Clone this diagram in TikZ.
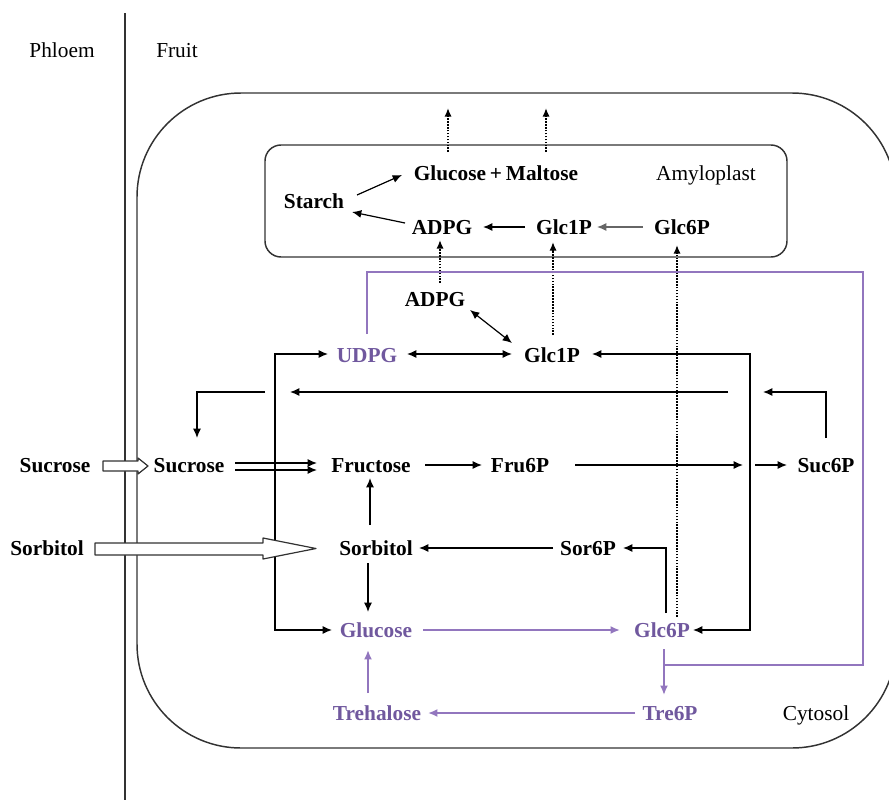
\documentclass[tikz,border=0pt]{standalone}
\usepackage{fontspec}
\setmainfont{Liberation Serif}
\usetikzlibrary{arrows.meta,calc}
\definecolor{ptext}{RGB}{112,88,158}
\definecolor{pline}{RGB}{146,118,190}
\definecolor{frame}{RGB}{50,50,50}
\begin{document}
\begin{tikzpicture}[x=0.75pt,y=-0.75pt,
  lbl/.style={font=\fontsize{16}{18}\selectfont, inner sep=0pt, text height=10.5pt, text depth=0pt},
  met/.style={lbl, font=\fontsize{16}{18}\selectfont\bfseries},
  pmet/.style={met, text=ptext},
  arr/.style={-{Latex[length=7pt,width=6pt]}, line width=0.9pt},
  darr/.style={{Latex[length=7pt,width=6pt]}-{Latex[length=7pt,width=6pt]}, line width=0.9pt},
  parr/.style={-{Latex[length=7pt,width=6pt]}, draw=pline, line width=1.4pt},
  dotarr/.style={-{Latex[length=6.5pt,width=5.5pt]}, dash pattern=on 1.2pt off 1pt, line width=1.6pt},
  hollow/.style={draw=frame, fill=white, line width=0.9pt, line join=round},
  compart/.style={draw=frame, line width=1.1pt}]
\useasboundingbox (0,0) rectangle (889,800);

% compartments
\draw[compart] (125,13) -- (125,800);
\draw[compart, rounded corners=78pt] (137,93) rectangle (896,748);
\draw[compart, rounded corners=12pt] (265,145) rectangle (787,257);

% labels
\node[lbl] (phloem) at (62,50) {Phloem};
\node[lbl] (fruit) at (177,50) {Fruit};
\node[lbl] (amylo) at (706,173) {Amyloplast};
\node[lbl] (cytosol) at (816,713) {Cytosol};

% amyloplast metabolites
\node[met] (starch) at (314,201) {Starch};
\node[met] (glu) at (450,173) {Glucose};
\node[met] (plus) at (496,173) {+};
\node[met] (mal) at (542,173) {Maltose};
\node[met] (adpgIn) at (442,227) {ADPG};
\node[met] (glc1In) at (564,227) {Glc1P};
\node[met] (glc6In) at (682,227) {Glc6P};

% cytosol metabolites
\node[met] (adpgOut) at (435,299) {ADPG};
\node[pmet] (udpg) at (367,355) {UDPG};
\node[met] (glc1Out) at (552,355) {Glc1P};
\node[met] (sucOut) at (55,465) {Sucrose};
\node[met] (sucIn) at (189,465) {Sucrose};
\node[met] (fru) at (371,465) {Fructose};
\node[met] (fru6) at (520,465) {Fru6P};
\node[met] (suc6) at (826,465) {Suc6P};
\node[met] (sorOut) at (47,548) {Sorbitol};
\node[met] (sorIn) at (376,548) {Sorbitol};
\node[met] (sor6) at (588,548) {Sor6P};
\node[pmet] (glucose) at (376,630) {Glucose};
\node[pmet] (glc6) at (662,630) {Glc6P};
\node[pmet] (tre6) at (670,713) {Tre6P};
\node[pmet] (treh) at (377,713) {Trehalose};

% free-end coordinates
\coordinate (gluOut) at ($(glu)+(-2,-65)$);
\coordinate (malOut) at ($(mal)+(4,-65)$);
\coordinate (longR) at (728,392);
\coordinate (longL) at (290,392);
\coordinate (sucTurnStart) at (265,392);
\coordinate (suc6Tip) at (763,392);
\coordinate (fru6Tip) at (743,465);
\coordinate (suc6Start) at (755,465);
\coordinate (junc) at ($(glc6)+(2,35)$);

% inside amyloplast
\draw[arr] ($(starch)+(43,-6)$) -- ($(glu)+(-48,2)$);
\draw[arr] ($(adpgIn)+(-37,-4)$) -- ($(starch)+(38,11)$);
\draw[arr] ($(glc1In)+(-39,0)$) -- ($(adpgIn)+(41,0)$);
\draw[arr, draw=black!60] ($(glc6In)+(-39,0)$) -- ($(glc1In)+(33,0)$);

% dotted transport
\draw[dotarr] ($(glu)+(-2,-21)$) -- (gluOut);
\draw[dotarr] ($(mal)+(4,-21)$) -- (malOut);
\draw[dotarr] ($(adpgOut)+(5,-16)$) -- ($(adpgIn)+(-2,13)$);
\draw[dotarr] ($(glc1Out)+(1,-20)$) -- ($(glc1In)+(-11,15)$);
\draw[dotarr] ($(glc6)+(15,-13)$) -- ($(glc6In)+(-5,18)$);

% cytosol reactions
\draw[darr] ($(adpgOut)+(35,11)$) -- ($(glc1Out)+(-40,-12)$);
\draw[darr] ($(udpg)+(40,-1)$) -- ($(glc1Out)+(-40,-1)$);
\draw[darr] ($(udpg)+(-39,-1)$) -- ($(udpg)+(-92,-1)$) |- ($(glucose)+(-44,0)$);
\draw[darr] ($(glc1Out)+(40,-1)$) -- ($(glc1Out)+(198,-1)$) |- ($(glc6)+(31,0)$);
\draw[arr] (longR) -- (longL);
\draw[arr] ($(suc6)+(0,-27)$) |- (suc6Tip);
\draw[arr] (sucTurnStart) -| ($(sucIn)+(8,-27)$);
\draw[arr] ($(fru6)+(55,0)$) -- (fru6Tip);
\draw[arr] (suc6Start) -- ($(suc6)+(-39,0)$);
\draw[arr] ($(fru)+(54,0)$) -- ($(fru6)+(-38,0)$);
\draw[arr] ($(sucIn)+(46,-2)$) -- ($(fru)+(-54,-2)$);
\draw[arr] ($(sucIn)+(46,5)$) -- ($(fru)+(-54,5)$);
\draw[arr] ($(sorIn)+(-6,-23)$) -- ($(fru)+(-1,13)$);
\draw[arr] ($(sorIn)+(-8,15)$) -- ($(glucose)+(-8,-18)$);
\draw[arr] ($(sor6)+(-35,0)$) -- ($(sorIn)+(43,0)$);
\draw[arr] ($(glc6)+(4,-17)$) |- ($(sor6)+(35,0)$);

% purple pathway
\draw[parr] ($(glucose)+(47,0)$) -- ($(glc6)+(-42,0)$);
\draw[parr] ($(glc6)+(2,19)$) -- ($(tre6)+(-6,-18)$);
\draw[parr] ($(tre6)+(-35,0)$) -- ($(treh)+(51,0)$);
\draw[parr] ($(treh)+(-9,-20)$) -- ($(glucose)+(-8,20)$);
\draw[draw=pline, line width=1.4pt] ($(udpg)+(0,-21)$) -- ++(0,-62) -- ++(496,0) -- ++(0,393) -- (junc);

% phloem import (hollow arrows)
\draw[hollow] (103,461) -- (138,461) -- (138,458) -- (148,466) -- (138,474) -- (138,471) -- (103,471) -- cycle;
\draw[hollow] (95,543) -- (263,543) -- (263,538) -- (316,548.5) -- (263,559) -- (263,555) -- (95,555) -- cycle;
\end{tikzpicture}
\end{document}
